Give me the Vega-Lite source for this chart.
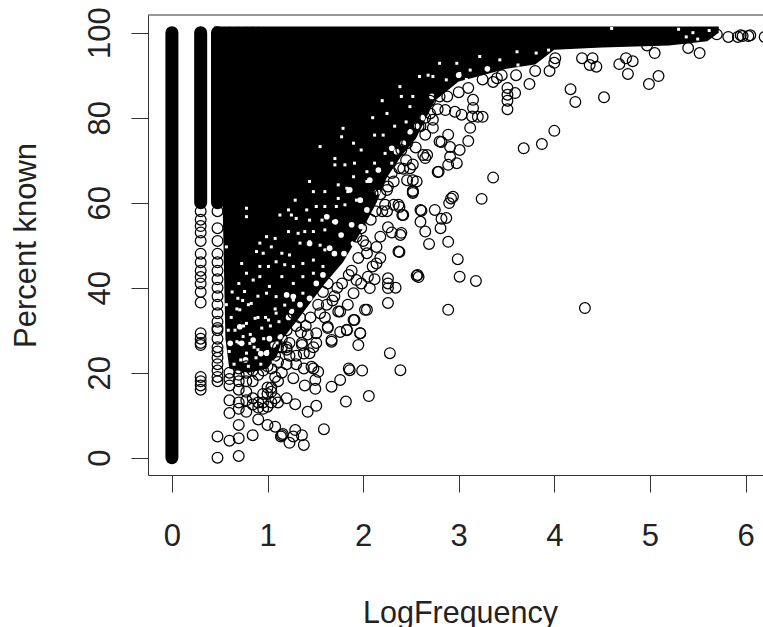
{
"$schema":"https://vega.github.io/schema/vega-lite/v6.json",
"width":615,"height":460,
"autosize":{"type":"none"},
"padding":{"left":148,"top":15,"right":0,"bottom":152},
"background":"white",
"config":{"view":{"stroke":null}},
"datasets":{
"envelope":[{"x":0.44,"low":60},{"x":0.53,"low":60},{"x":0.56,"low":28},{"x":0.6,"low":21},{"x":0.8,"low":20},{"x":1.0,"low":21},{"x":1.1,"low":24},{"x":1.16,"low":28},{"x":1.3,"low":32},{"x":1.4,"low":35},{"x":1.6,"low":41},{"x":1.79,"low":46},{"x":2.0,"low":54},{"x":2.14,"low":60},{"x":2.25,"low":66},{"x":2.4,"low":71},{"x":2.55,"low":75},{"x":2.75,"low":84},{"x":3.0,"low":88.5},{"x":3.25,"low":90},{"x":3.5,"low":91.5},{"x":3.8,"low":92.5},{"x":4.0,"low":96},{"x":4.5,"low":96.5},{"x":5.2,"low":97},{"x":5.6,"low":98},{"x":5.72,"low":100}],
"columns":[{"x":0,"y":0,"y2":100},{"x":0.301,"y":60,"y2":100},{"x":0.477,"y":60,"y2":100}],
"points":[
{"x":0.301,"y":58},{"x":0.301,"y":56},{"x":0.301,"y":54.5},{"x":0.301,"y":53},{"x":0.301,"y":51},{"x":0.301,"y":48},{"x":0.301,"y":46},{"x":0.301,"y":44},{"x":0.301,"y":42.5},{"x":0.301,"y":41},{"x":0.301,"y":39},{"x":0.301,"y":36.5},{"x":0.301,"y":29.3},{"x":0.301,"y":28},{"x":0.301,"y":27},{"x":0.301,"y":26.5},{"x":0.301,"y":19},{"x":0.301,"y":18},{"x":0.301,"y":17},{"x":0.301,"y":16},
{"x":0.477,"y":58},{"x":0.477,"y":54},{"x":0.477,"y":51},{"x":0.477,"y":48},{"x":0.477,"y":46},{"x":0.477,"y":44},{"x":0.477,"y":42},{"x":0.477,"y":40},{"x":0.477,"y":38},{"x":0.477,"y":36},{"x":0.477,"y":34},{"x":0.477,"y":32},{"x":0.477,"y":30.5},{"x":0.477,"y":30},{"x":0.477,"y":28},{"x":0.477,"y":26},{"x":0.477,"y":25},{"x":0.477,"y":23.5},{"x":0.477,"y":22},{"x":0.477,"y":20.5},{"x":0.477,"y":19},{"x":0.477,"y":18},{"x":0.477,"y":5},{"x":0.477,"y":0},
{"x":0.602,"y":100},{"x":0.699,"y":100},{"x":0.778,"y":100},{"x":0.845,"y":100},{"x":0.903,"y":100},
{"x":0.602,"y":20},{"x":0.602,"y":18.5},{"x":0.602,"y":17},{"x":0.602,"y":13.5},{"x":0.602,"y":10.5},{"x":0.602,"y":4},
{"x":0.699,"y":21},{"x":0.699,"y":19.5},{"x":0.699,"y":18},{"x":0.699,"y":16},{"x":0.699,"y":13},{"x":0.699,"y":11.5},{"x":0.699,"y":7.7},{"x":0.699,"y":4.6},{"x":0.699,"y":0.4},
{"x":0.778,"y":21.5},{"x":0.778,"y":20},{"x":0.778,"y":18},{"x":0.778,"y":15.5},{"x":0.778,"y":13.5},{"x":0.778,"y":10.8},
{"x":0.845,"y":20.5},{"x":0.845,"y":18},{"x":0.845,"y":14},{"x":0.845,"y":12.5},{"x":0.845,"y":5.3},
{"x":0.903,"y":19.5},{"x":0.903,"y":13},{"x":0.903,"y":11.8},{"x":0.903,"y":9},
{"x":0.954,"y":20.5},{"x":0.954,"y":15},{"x":0.954,"y":13},{"x":0.954,"y":11.5},
{"x":1.0,"y":21.5},{"x":1.0,"y":16.5},{"x":1.0,"y":15},{"x":1.0,"y":12},{"x":1.0,"y":7.7},
{"x":1.04,"y":21},{"x":1.04,"y":16.5},{"x":1.04,"y":15.5},{"x":1.04,"y":13},
{"x":1.08,"y":24},{"x":1.08,"y":19},{"x":1.08,"y":14},{"x":1.08,"y":7.3},
{"x":1.11,"y":26},{"x":1.11,"y":22.5},{"x":1.11,"y":18},{"x":1.11,"y":13},
{"x":1.15,"y":28},{"x":1.15,"y":26},{"x":1.15,"y":20},{"x":1.15,"y":5.3},{"x":1.14,"y":5},{"x":1.16,"y":5.6},
{"x":1.2,"y":30},{"x":1.2,"y":26},{"x":1.2,"y":22},{"x":1.2,"y":14},
{"x":1.23,"y":27},{"x":1.23,"y":24},{"x":1.23,"y":3.5},{"x":1.27,"y":5},{"x":1.27,"y":18.7},{"x":1.27,"y":34},
{"x":1.29,"y":6.5},{"x":1.29,"y":12.6},{"x":1.3,"y":24},{"x":1.3,"y":22},{"x":1.3,"y":31},
{"x":1.34,"y":33},{"x":1.36,"y":27},{"x":1.36,"y":5.3},{"x":1.38,"y":3},{"x":1.39,"y":17},{"x":1.38,"y":21},{"x":1.38,"y":24.5},
{"x":1.42,"y":10.8},{"x":1.42,"y":29},{"x":1.45,"y":33},{"x":1.48,"y":26},{"x":1.48,"y":21},
{"x":1.5,"y":16.2},{"x":1.5,"y":18.3},{"x":1.51,"y":12.2},{"x":1.51,"y":27},{"x":1.51,"y":29.3},{"x":1.53,"y":20.2},{"x":1.53,"y":36},
{"x":1.59,"y":6.7},{"x":1.58,"y":39},{"x":1.6,"y":33},{"x":1.63,"y":30.5},{"x":1.63,"y":41},
{"x":1.67,"y":16.7},{"x":1.67,"y":27.3},{"x":1.7,"y":38},
{"x":1.76,"y":18.3},{"x":1.76,"y":29.6},{"x":1.76,"y":34.4},{"x":1.78,"y":41},{"x":1.82,"y":13.2},{"x":1.83,"y":30},
{"x":1.84,"y":36},{"x":1.85,"y":21},{"x":1.88,"y":44},{"x":1.91,"y":32.4},{"x":1.93,"y":52},
{"x":1.95,"y":26.5},{"x":1.97,"y":29.3},{"x":1.98,"y":54},{"x":1.98,"y":41},{"x":1.99,"y":20.5},{"x":2.02,"y":34.8},{"x":2.03,"y":50},{"x":2.06,"y":14.5},
{"x":2.08,"y":56},{"x":2.1,"y":45},{"x":2.12,"y":42},{"x":2.13,"y":58},{"x":2.18,"y":52},{"x":2.18,"y":47},{"x":2.26,"y":36.4},{"x":2.26,"y":41},{"x":2.25,"y":63},{"x":2.25,"y":58},
{"x":2.28,"y":24.6},{"x":2.3,"y":53},{"x":2.32,"y":65},{"x":2.32,"y":59.5},{"x":2.34,"y":40},{"x":2.38,"y":48.4},{"x":2.38,"y":59},{"x":2.39,"y":20.6},{"x":2.4,"y":52.9},{"x":2.42,"y":57.1},{"x":2.42,"y":68},
{"x":2.46,"y":65.3},{"x":2.46,"y":74},{"x":2.51,"y":76.4},{"x":2.52,"y":62.3},{"x":2.52,"y":62.8},{"x":2.52,"y":65.3},{"x":2.52,"y":69},{"x":2.56,"y":42.8},{"x":2.57,"y":43},{"x":2.58,"y":42.5},{"x":2.6,"y":55.5},{"x":2.61,"y":58.1},{"x":2.58,"y":78},{"x":2.6,"y":83},
{"x":2.65,"y":53.2},{"x":2.65,"y":70.5},{"x":2.65,"y":76},{"x":2.65,"y":80},{"x":2.67,"y":71.2},{"x":2.69,"y":50.3},{"x":2.7,"y":84},{"x":2.73,"y":79.5},{"x":2.73,"y":77.6},{"x":2.75,"y":58.3},{"x":2.78,"y":67.2},{"x":2.78,"y":82},{"x":2.81,"y":54},{"x":2.82,"y":56.2},{"x":2.82,"y":74.3},{"x":2.86,"y":81.8},{"x":2.87,"y":56.4},{"x":2.88,"y":85},
{"x":2.89,"y":34.8},{"x":2.89,"y":50.8},{"x":2.89,"y":68.9},{"x":2.89,"y":76},{"x":2.9,"y":59.9},{"x":2.91,"y":70.8},{"x":2.91,"y":73.1},{"x":2.94,"y":61.4},{"x":2.96,"y":81.4},{"x":2.98,"y":69.3},{"x":2.99,"y":46.7},{"x":3.0,"y":86},{"x":3.01,"y":42.6},{"x":3.01,"y":72.4},{"x":3.03,"y":80.7},{"x":3.1,"y":74.5},{"x":3.12,"y":77.6},{"x":3.1,"y":87},{"x":3.14,"y":80.3},{"x":3.15,"y":82.3},{"x":3.15,"y":84.2},{"x":3.18,"y":41.6},{"x":3.2,"y":80.2},{"x":3.24,"y":60.9},{"x":3.25,"y":80.2},{"x":3.25,"y":89},{"x":3.36,"y":65.9},{"x":3.36,"y":88.4},{"x":3.4,"y":89.3},{"x":3.45,"y":90},
{"x":3.51,"y":82},{"x":3.51,"y":85.4},{"x":3.51,"y":87},{"x":3.51,"y":84},{"x":3.59,"y":85.8},{"x":3.6,"y":90},{"x":3.68,"y":72.8},{"x":3.74,"y":87.9},{"x":3.8,"y":91},{"x":3.87,"y":73.8},{"x":3.95,"y":91},{"x":4,"y":76.9},{"x":4,"y":92.9},{"x":4.01,"y":94},
{"x":4.17,"y":86.7},{"x":4.22,"y":83.7},{"x":4.29,"y":94},{"x":4.32,"y":35.2},{"x":4.37,"y":92.4},{"x":4.4,"y":94},{"x":4.44,"y":92},{"x":4.52,"y":84.8},{"x":4.68,"y":92.6},{"x":4.75,"y":94},{"x":4.77,"y":90.3},{"x":4.82,"y":93.3},{"x":4.97,"y":97},{"x":4.99,"y":87.9},{"x":5.05,"y":95.2},{"x":5.09,"y":89.8},{"x":5.4,"y":96.4},{"x":5.52,"y":95.2},
{"x":5.7,"y":99.6},{"x":5.82,"y":99},{"x":5.92,"y":99},{"x":5.95,"y":99.4},{"x":5.97,"y":99.2},{"x":6.03,"y":99.2},{"x":6.05,"y":99.4},{"x":6.2,"y":99},
{"x":2.26,"y":63.8},{"x":2.1,"y":62.2},{"x":2.52,"y":62.6},{"x":2.23,"y":59.5},{"x":2.37,"y":59.5},{"x":2.41,"y":57.1},{"x":2.26,"y":54.2},{"x":2.39,"y":52.4},{"x":2.37,"y":48.5},{"x":2.14,"y":49.6},{"x":2.14,"y":45.7},{"x":2.26,"y":42.2},{"x":2.26,"y":39.9},{"x":2.05,"y":42.6},{"x":1.93,"y":41.8},{"x":1.9,"y":38.7},{"x":2.07,"y":39.9},{"x":2.04,"y":34.8},{"x":1.9,"y":32.4},{"x":1.74,"y":34.4},{"x":1.97,"y":29.3},{"x":1.83,"y":30.1},{"x":1.67,"y":27.7},{"x":1.63,"y":30.8},{"x":1.36,"y":26.5},{"x":2.6,"y":58.3},{"x":2.92,"y":61},{"x":2.8,"y":74.4},{"x":2.63,"y":71.2},{"x":2.79,"y":67.3},{"x":2.49,"y":76.7},{"x":2.4,"y":72.4},{"x":2.38,"y":68.1},{"x":2.49,"y":68.1},{"x":2.56,"y":65},{"x":2.04,"y":48.1},{"x":1.86,"y":20.6},{"x":1.44,"y":24.6},{"x":1.2,"y":25.4},{"x":1.46,"y":21.4},
{"x":1.73,"y":40},{"x":1.68,"y":37},{"x":1.95,"y":47},{"x":1.85,"y":43},{"x":2.0,"y":51},{"x":1.55,"y":34},{"x":1.62,"y":36},{"x":1.35,"y":29.5},{"x":1.4,"y":31},{"x":2.2,"y":58},{"x":2.18,"y":62},{"x":2.3,"y":67},{"x":2.45,"y":70},{"x":2.55,"y":73},{"x":2.6,"y":78},{"x":2.7,"y":81},{"x":2.8,"y":85}
],
"holes":[{"x":1.2,"y":38.3},{"x":1.88,"y":54.8},{"x":1.98,"y":54.4},{"x":1.71,"y":55.5},{"x":1.62,"y":56.7},{"x":2.04,"y":58.3},{"x":1.77,"y":52.4},{"x":1.9,"y":50.4},{"x":1.65,"y":49.3},{"x":1.44,"y":50.4},{"x":1.51,"y":41},{"x":1.27,"y":37.9},{"x":1.44,"y":37.5},{"x":1.58,"y":43},{"x":1.34,"y":36},{"x":1.22,"y":33},{"x":2.07,"y":65.3},{"x":1.86,"y":63},{"x":1.97,"y":60.6},{"x":2.16,"y":67.7},{"x":2.35,"y":72},{"x":2.3,"y":72.8},{"x":2.42,"y":74},{"x":2.49,"y":76.7},{"x":1.13,"y":28.5},{"x":0.61,"y":26.9},{"x":0.73,"y":26.9},{"x":0.85,"y":27.7},{"x":0.71,"y":30.8},{"x":0.99,"y":24.6},{"x":2.62,"y":80},{"x":2.72,"y":85},{"x":2.56,"y":78},{"x":3.0,"y":90},{"x":3.3,"y":91.5},{"x":2.15,"y":62.5},{"x":1.7,"y":48},{"x":1.8,"y":48},{"x":1.02,"y":28},{"x":1.06,"y":26.5},{"x":0.93,"y":24.5},{"x":0.77,"y":23},{"x":1.25,"y":34.5}],
"specks":[
{"x":1.55,"y":73.2},{"x":1.705,"y":70.4},{"x":1.705,"y":68.9},{"x":1.775,"y":75.5},{"x":1.79,"y":77.5},{"x":1.9,"y":74},{"x":1.98,"y":72.4},{"x":2.12,"y":75.9},{"x":2.21,"y":75.9},{"x":1.81,"y":68.9},{"x":1.91,"y":69.3},{"x":1.44,"y":65},{"x":1.74,"y":64.2},{"x":1.83,"y":63.4},{"x":1.9,"y":66.1},{"x":2.04,"y":67.3},{"x":2.12,"y":69.3},{"x":2.23,"y":71.6},{"x":2.3,"y":69.3},{"x":2.04,"y":65},{"x":1.93,"y":60.6},{"x":1.84,"y":62.6},{"x":1.48,"y":62.6},{"x":1.6,"y":62.6},{"x":1.74,"y":61},{"x":1.29,"y":60.6},{"x":1.22,"y":58.3},{"x":1.25,"y":57.1},{"x":1.3,"y":56.3},{"x":1.41,"y":58.3},{"x":1.51,"y":59.1},{"x":1.6,"y":59.1},{"x":1.72,"y":59.1},{"x":1.81,"y":59.5},{"x":1.13,"y":57.1},{"x":0.78,"y":58.7},{"x":0.78,"y":56.7},{"x":1.44,"y":55.9},{"x":1.57,"y":55.9},{"x":1.69,"y":55.5},{"x":1.39,"y":53.2},{"x":1.48,"y":53.2},{"x":1.22,"y":53.2},{"x":1.32,"y":52.8},{"x":1.6,"y":53.6},{"x":0.92,"y":50.5},{"x":0.99,"y":52},{"x":1.08,"y":51.6},{"x":1.04,"y":49.6},{"x":0.885,"y":48.5},{"x":0.955,"y":48.1},{"x":1.15,"y":48.1},{"x":1.23,"y":47.7},{"x":1.34,"y":50.5},{"x":1.44,"y":50.8},{"x":1.55,"y":50},{"x":1.6,"y":48.9},{"x":0.73,"y":45.7},{"x":0.85,"y":41.8},{"x":0.92,"y":45},{"x":1.01,"y":45},{"x":1.09,"y":46.1},{"x":1.18,"y":45.4},{"x":1.27,"y":45},{"x":1.37,"y":45.7},{"x":1.48,"y":46.5},{"x":1.58,"y":45},{"x":0.78,"y":43.4},{"x":0.76,"y":39.1},{"x":0.69,"y":37.5},{"x":0.83,"y":36.3},{"x":0.92,"y":42.6},{"x":1.02,"y":40.3},{"x":1.15,"y":42.6},{"x":1.27,"y":41},{"x":1.37,"y":42.6},{"x":1.48,"y":43.4},{"x":0.57,"y":49.6},{"x":0.5,"y":50.8},{"x":0.71,"y":34.8},{"x":0.78,"y":31.6},{"x":0.87,"y":32.8},{"x":1.01,"y":32.4},{"x":0.94,"y":30.5},{"x":0.745,"y":28.5},{"x":0.68,"y":27.3},{"x":0.815,"y":26.9},{"x":0.9,"y":25.4},{"x":0.78,"y":24.6},{"x":1.09,"y":34},{"x":1.18,"y":35.9},{"x":1.27,"y":37.1},{"x":1.37,"y":38.7},{"x":1.09,"y":37.9},{"x":0.99,"y":38.7},
{"x":0.62,"y":33},{"x":0.66,"y":30},{"x":0.7,"y":27},{"x":0.75,"y":31},{"x":0.82,"y":29},{"x":0.86,"y":26},{"x":0.9,"y":33},{"x":0.93,"y":22},{"x":0.96,"y":28},{"x":1.0,"y":25},{"x":1.03,"y":31},{"x":1.06,"y":22.5},{"x":0.6,"y":25},{"x":0.65,"y":22},{"x":0.72,"y":23},{"x":0.8,"y":21.5},{"x":0.88,"y":23.5},{"x":0.98,"y":33},{"x":1.1,"y":27},{"x":1.12,"y":32},{"x":1.08,"y":35},{"x":0.68,"y":35},{"x":0.74,"y":37},{"x":0.59,"y":30},{"x":0.57,"y":36},{"x":0.63,"y":39},{"x":0.7,"y":41},{"x":0.8,"y":36},{"x":0.9,"y":38},
{"x":2.68,"y":90},{"x":2.59,"y":89.7},{"x":2.73,"y":89.7},{"x":2.87,"y":88.9},{"x":3.01,"y":90.4},{"x":3.12,"y":91.2},{"x":3.22,"y":94.4},{"x":2.8,"y":92.8},{"x":2.98,"y":92.8},{"x":3.61,"y":95.5},{"x":3.81,"y":95.2},{"x":3.94,"y":95.9},{"x":3.62,"y":92.4},{"x":3.43,"y":93.6},{"x":3.08,"y":89},{"x":2.49,"y":82.6},{"x":2.4,"y":85},{"x":2.52,"y":85},{"x":2.385,"y":87.3},{"x":2.25,"y":81},{"x":2.1,"y":80},{"x":2.33,"y":78},{"x":2.45,"y":79},{"x":2.2,"y":84},{"x":5.45,"y":100},{"x":5.5,"y":98.5},{"x":5.62,"y":100.5},{"x":5.3,"y":100.8},{"x":5.38,"y":99},{"x":4.6,"y":101}
],
"top":[{"y":104.16}]
},
"layer":[
{"data":{"name":"envelope"},"mark":{"type":"area","color":"black","interpolate":"linear"},
 "encoding":{"x":{"field":"x","type":"quantitative","scale":{"domain":[-0.25,6.183],"nice":false,"zero":false},
   "axis":{"values":[0,1,2,3,4,5,6],"format":"d","grid":false,"title":"LogFrequency","titleFont":"Liberation Sans","titleFontWeight":"normal","titleFontSize":30.5,"titleColor":"#222","titleX":312,"titleY":147,"titleBaseline":"alphabetic","labelFont":"Liberation Sans","labelFontSize":31,"labelColor":"#222","labelPadding":29,"labelAngle":0,"tickSize":17,"tickColor":"#333","domainColor":"#333","labelFlush":false,"labelOverlap":false}},
  "y":{"field":"low","type":"quantitative","scale":{"domain":[-4.07,104.16],"nice":false,"zero":false},
   "axis":{"values":[0,20,40,60,80,100],"format":"d","grid":false,"title":"Percent known","titleFont":"Liberation Sans","titleFontWeight":"normal","titleFontSize":31,"titleColor":"#222","titleX":-113,"titleY":230,"titleBaseline":"alphabetic","labelFont":"Liberation Sans","labelFontSize":31,"labelColor":"#222","labelPadding":22,"labelAngle":-90,"labelAlign":"center","labelBaseline":"alphabetic","tickSize":17,"tickColor":"#333","domainColor":"#333","labelOverlap":false}},
  "y2":{"datum":101.45}}},
{"data":{"name":"columns"},"mark":{"type":"rule","color":"black","strokeWidth":13,"strokeCap":"round"},
 "encoding":{"x":{"field":"x","type":"quantitative"},"y":{"field":"y","type":"quantitative"},"y2":{"field":"y2"}}},
{"data":{"name":"holes"},"mark":{"type":"point","shape":"circle","filled":true,"color":"white","size":32,"opacity":1},
 "encoding":{"x":{"field":"x","type":"quantitative"},"y":{"field":"y","type":"quantitative"}}},
{"data":{"name":"points"},"mark":{"type":"point","shape":"circle","filled":false,"color":"black","size":115,"strokeWidth":1.25,"opacity":1},
 "encoding":{"x":{"field":"x","type":"quantitative"},"y":{"field":"y","type":"quantitative"}}},
{"data":{"name":"specks"},"mark":{"type":"point","shape":"square","filled":true,"color":"white","size":9,"opacity":1},
 "encoding":{"x":{"field":"x","type":"quantitative"},"y":{"field":"y","type":"quantitative"}}},
{"data":{"name":"top"},"mark":{"type":"rule","color":"#333"},"encoding":{"y":{"field":"y","type":"quantitative"}}}
]
}
